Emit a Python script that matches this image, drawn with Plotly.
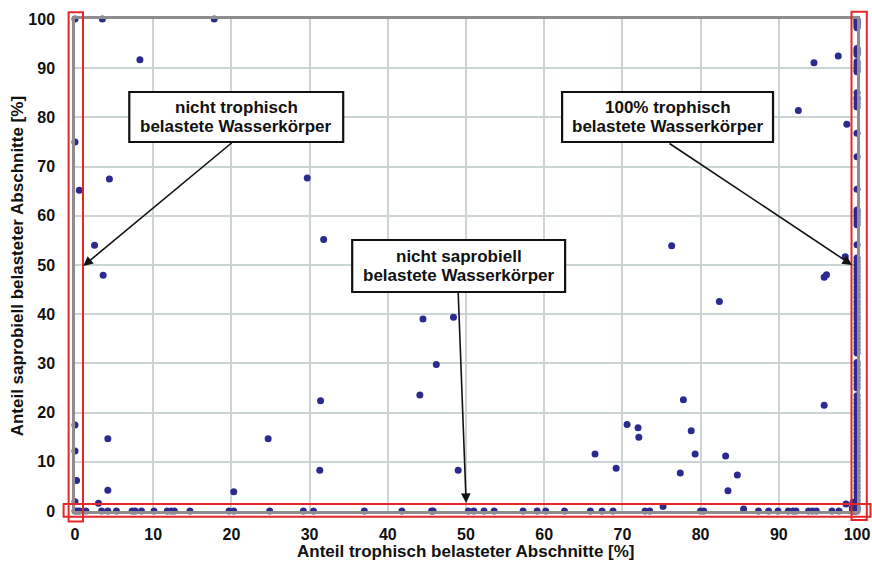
import plotly.graph_objects as go

# ---- data ----
x_scatter = [0, 3.5, 17.8, 8.3, 0, 0.55, 4.4, 2.5, 3.6, 0, 0, 0.2, 0, 3.0, 4.2, 4.2,
             20.3, 24.7, 31.4, 31.3, 44.1, 29.7, 31.8, 44.5, 48.4, 46.2, 49.0,
             66.5, 69.2, 70.6, 72.0, 72.1, 77.8, 78.8, 79.3, 77.4, 83.2, 84.7, 83.5,
             95.8, 76.3, 82.4, 94.5, 97.6, 92.5, 98.7, 98.5, 95.8, 96.1, 75.2, 85.5, 98.6]
y_scatter = [100, 100, 100, 91.7, 75, 65.2, 67.5, 54.0, 47.9, 17.5, 12.2, 6.2, 1.9, 1.6, 14.7, 4.2,
             3.9, 14.7, 22.4, 8.3, 23.6, 67.7, 55.2, 39.0, 39.4, 29.8, 8.3,
             11.6, 8.7, 17.6, 16.9, 15.0, 22.6, 16.3, 11.6, 7.7, 11.2, 7.3, 4.1,
             21.5, 53.9, 42.6, 91.1, 92.5, 81.4, 78.6, 51.7, 47.5, 48.0, 0.9, 0.4, 1.4]

# points on the x axis (saprobiell 0 %)
x_bottom = [0, 0.3, 0.6, 1.4, 3.4, 4.2, 5.3, 7.3, 7.7, 8.5, 10.1, 11.8, 12.3, 12.7, 14.7,
            19.7, 20.3, 24.9, 29.2, 30.5, 37.0, 41.8, 45.6, 45.8, 50.3, 51.0, 52.3, 53.6,
            57.3, 59.1, 60.2, 62.6, 65.9, 67.4, 68.8, 72.9, 73.5, 80.0, 80.4, 87.4, 88.7,
            89.9, 91.2, 91.8, 92.2, 93.8, 94.3, 94.8, 96.8, 97.7, 99.4, 99.6, 99.8]

# points on the right edge (100 % trophisch)
y_right = [99.9, 99.6, 99.3, 99.0, 98.6, 98.2, 94.0, 93.6, 93.2, 92.8, 91.3, 90.8, 90.2,
           89.7, 89.3, 85.0, 84.1, 83.6, 82.8, 82.1, 76.8, 72.0, 65.4, 61.2, 60.7, 60.1,
           59.5, 58.8, 58.2, 54.1, 51.4, 50.7, 50.0, 49.3, 48.6, 47.8, 47.1, 46.4, 45.6,
           44.9, 44.1, 43.4, 42.6, 41.9, 41.1, 40.4, 39.6, 38.9, 38.1, 37.3, 36.6, 35.8,
           35.1, 34.3, 33.6, 32.8, 32.1, 30.2, 29.5, 28.7, 28.0, 27.2, 26.5, 25.7, 25.0,
           23.4, 22.6, 21.9, 21.1, 20.4, 19.6, 18.9, 18.1, 17.4, 16.6, 15.8, 15.1, 14.3,
           13.6, 12.8, 12.1, 11.3, 10.6, 9.8, 9.1, 8.3, 7.6, 6.8, 6.1, 5.3, 4.6, 3.8,
           3.1, 2.3, 1.6, 0.8, 0.4, 0.0]
# small cluster in the lower right corner
x_corner = [99.4, 99.6, 99.8, 99.5, 99.7]
y_corner = [0.6, 1.0, 1.4, 1.8, 0.3]

tick_vals = [0, 10, 20, 30, 40, 50, 60, 70, 80, 90, 100]
tick_text = [str(v) for v in tick_vals]

x_title = "Anteil trophisch belasteter Abschnitte [%]"
y_title = "Anteil saprobiell belasteter Abschnitte [%]"
label_left = ["nicht trophisch", "belastete Wasserkörper"]
label_right = ["100% trophisch", "belastete Wasserkörper"]
label_mid = ["nicht saprobiell", "belastete Wasserkörper"]

# ---- figure ----
W, H = 872, 566
L, R, T, B = 74.7, 857.0, 19.0, 511.0   # plot area in pixels
pw, ph = R - L, B - T

def px(xp):
    return (xp - L) / pw

def py(yp):
    return (B - yp) / ph

MARK = "#2b2a8e"
all_x = x_scatter + x_bottom + [100] * len(y_right) + x_corner
all_y = y_scatter + [0] * len(x_bottom) + y_right + y_corner

fig = go.Figure()
fig.add_trace(go.Scatter(x=all_x, y=all_y, mode="markers", cliponaxis=False,
                         marker=dict(color=MARK, size=7, line=dict(width=0)),
                         showlegend=False, hoverinfo="skip"))

FONT = "Liberation Sans, Arial, sans-serif"
axis_common = dict(range=[0, 100], tickvals=tick_vals, ticktext=tick_text,
                   showgrid=True, gridcolor="#ccd5d5", gridwidth=1.5,
                   zeroline=False, showline=True, linecolor="#8e8c8c", linewidth=2.5,
                   mirror=True, ticks="", fixedrange=True, automargin=False,
                   tickfont=dict(family=FONT, size=16, color="#111111", weight="bold"))

fig.update_layout(
    width=W, height=H,
    margin=dict(l=L, r=W - R, t=T, b=H - B, autoexpand=False),
    paper_bgcolor="white", plot_bgcolor="white",
    xaxis=dict(**axis_common, ticklabelstandoff=7),
    yaxis=dict(**axis_common, ticklabelstandoff=14),
)

TFONT = dict(family=FONT, size=17, color="#111111", weight="bold")
fig.add_annotation(xref="paper", yref="paper", x=px(466), y=py(551),
                   xanchor="center", yanchor="middle", showarrow=False,
                   text=x_title, font=TFONT)
fig.add_annotation(xref="paper", yref="paper", x=px(17), y=py(266),
                   xanchor="center", yanchor="middle", showarrow=False,
                   text=y_title, textangle=-90, font=TFONT)

# red highlight rectangles (pixel-measured, in paper coords so they are not clipped)
RED = "#e8262a"
for (x0, y0, x1, y1) in [(68.3, 12.3, 82.7, 521.5),
                         (63.3, 504.0, 870.5, 516.7),
                         (851.5, 11.7, 866.8, 520.0)]:
    fig.add_shape(type="rect", xref="paper", yref="paper",
                  x0=px(x0), x1=px(x1), y0=py(y1), y1=py(y0),
                  line=dict(color=RED, width=2), fillcolor="rgba(0,0,0,0)", layer="above")

# arrows
for (hx, hy, tx, ty) in [(83, 266, 233, 141.5),
                         (852, 265, 668, 142.5),
                         (466, 503, 458, 291.5)]:
    fig.add_annotation(xref="paper", yref="paper", x=px(hx), y=py(hy),
                       ax=tx - hx, ay=ty - hy, text="", showarrow=True,
                       arrowhead=2, arrowsize=1.2, arrowwidth=1.6, arrowcolor="#111111")

# labelled boxes: white rectangle with black frame + two text lines
BFONT = dict(family=FONT, size=17, color="#111111", weight="bold")
for (x0, y0, x1, y1, lines) in [(129, 92, 343, 142, label_left),
                                (562, 92, 773, 142, label_right),
                                (352, 240, 565, 292, label_mid)]:
    fig.add_shape(type="rect", xref="paper", yref="paper",
                  x0=px(x0), x1=px(x1), y0=py(y1), y1=py(y0),
                  line=dict(color="#111111", width=2.2), fillcolor="white", layer="above")
    cx = (x0 + x1) / 2
    cy = (y0 + y1) / 2
    for i, t in enumerate(lines):
        fig.add_annotation(xref="paper", yref="paper", x=px(cx), y=py(cy - 9.5 + 19 * i),
                           xanchor="center", yanchor="middle", showarrow=False,
                           text=t, font=BFONT)

fig.write_html("out.html", config={"displayModeBar": False},
               post_script="document.body.style.margin='0';document.body.style.overflow='hidden';")
